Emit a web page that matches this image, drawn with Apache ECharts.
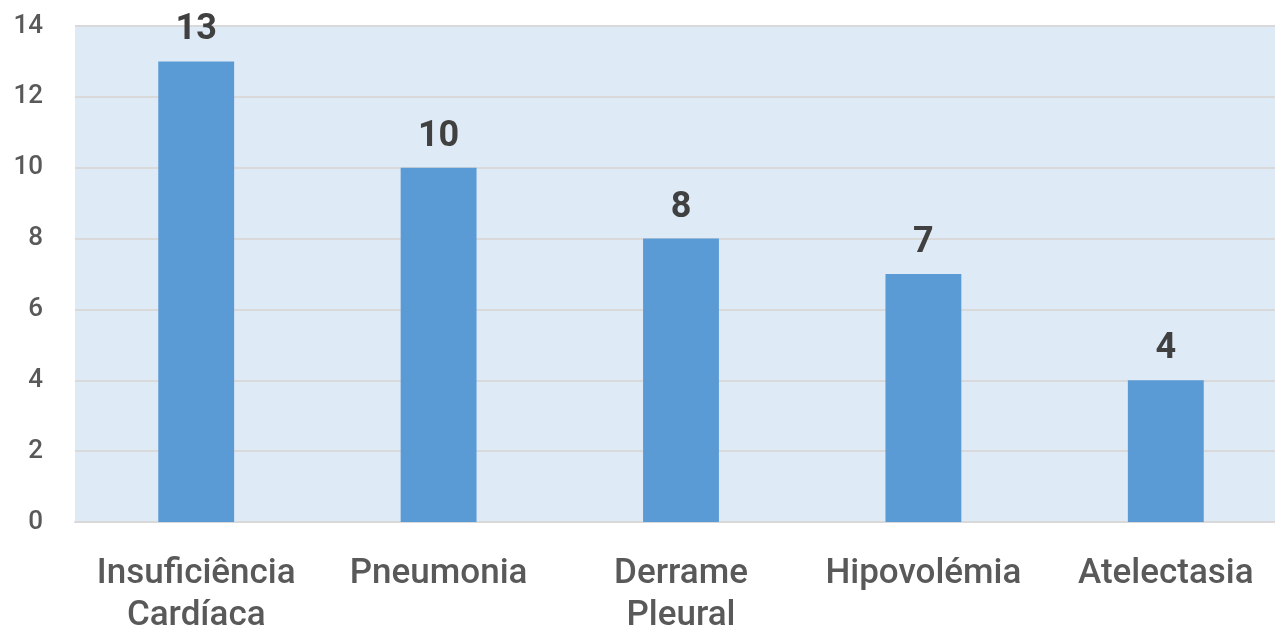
<!DOCTYPE html>
<html>
<head>
<meta charset="utf-8">
<script src="https://cdn.jsdelivr.net/npm/echarts@6/dist/echarts.min.js"></script>
<style>
  html, body { margin: 0; padding: 0; background: #fff; }
  #chart { width: 1275px; height: 631px; }
</style>
</head>
<body>
<div id="chart"></div>
<script>
// categories and values
const categories = ["Insuficiência\nCardíaca", "Pneumonia", "Derrame\nPleural", "Hipovolémia", "Atelectasia"];
const values = [13, 10, 8, 7, 4];

const chart = echarts.init(document.getElementById("chart"));
chart.setOption({
  animation: false,
  grid: {
    left: 75,
    right: -12,
    top: 26,
    bottom: 109,
    outerBoundsMode: "none",
    containLabel: false,
    show: true,
    backgroundColor: "#deeaf6",
    borderWidth: 0,
  },
  xAxis: {
    type: "category",
    data: categories,
    axisLine: { lineStyle: { color: "#d9d9d9", width: 2 } },
    axisTick: { show: false },
    axisLabel: {
      color: "#595959",
      fontFamily: "Roboto",
      fontWeight: 500,
      fontSize: 35,
      lineHeight: 42,
      margin: 31,
      interval: 0,
    },
  },
  yAxis: {
    type: "value",
    min: 0,
    max: 14,
    interval: 2,
    axisLine: { show: false },
    axisTick: { show: false },
    splitLine: { lineStyle: { color: "#d9d9d9", width: 2 } },
    axisLabel: {
      color: "#595959",
      fontFamily: "Roboto",
      fontWeight: 500,
      fontSize: 26,
      margin: 32,
    },
  },
  series: [
    {
      type: "bar",
      data: values,
      barWidth: "31.3%",
      itemStyle: { color: "#5b9bd5" },
      label: {
        show: true,
        position: "top",
        distance: 13,
        color: "#404040",
        fontFamily: "Roboto",
        fontWeight: "bold",
        fontSize: 36,
      },
    },
  ],
});
</script>
</body>
</html>
